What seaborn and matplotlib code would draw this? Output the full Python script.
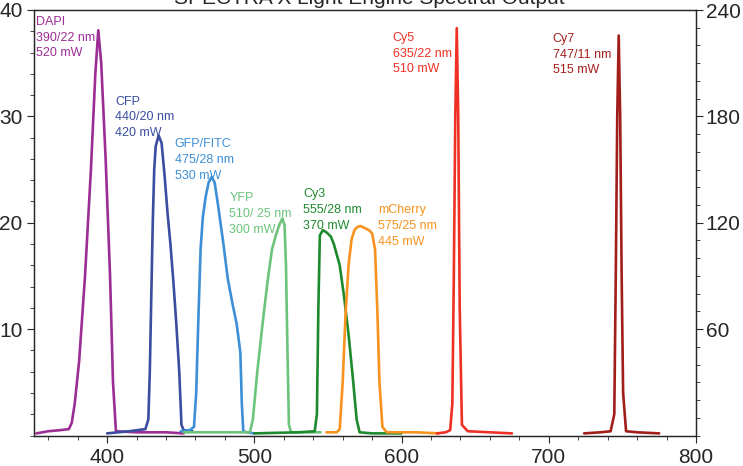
import numpy as np
import pandas as pd
import matplotlib
matplotlib.use("Agg")
from matplotlib import pyplot as plt
from matplotlib.ticker import MultipleLocator, FixedLocator
import seaborn as sns

# spectral curves: wavelength (nm) and power (left axis)
dapi_nm = [352, 360, 368, 374, 376, 378, 381, 385, 389, 392, 394, 396, 399, 402, 404, 406, 420, 440, 452]
dapi_pw = [0.2, 0.4, 0.5, 0.6, 1.2, 3.0, 7.0, 15.0, 25.0, 34.0, 38.1, 35.0, 26.0, 15.0, 5.0, 0.4, 0.3, 0.3, 0.2]

cfp_nm = [400, 415, 426, 428, 429, 430, 431, 432, 433, 435, 437, 439, 441, 443, 445, 447, 449, 450.5, 452, 458]
cfp_pw = [0.2, 0.4, 0.6, 1.5, 6.0, 13.0, 20.0, 25.0, 27.2, 28.2, 27.5, 24.5, 21.0, 18.0, 14.5, 10.5, 6.0, 1.0, 0.5, 0.4]

gfp_nm = [450, 456, 459, 460.5, 462, 463.5, 465, 467, 469, 471, 473, 475, 477, 479, 482, 485, 488, 490.5, 491.5, 492.5, 495, 500]
gfp_pw = [0.4, 0.5, 0.8, 4.0, 11.0, 17.5, 20.5, 22.5, 23.8, 24.3, 23.8, 22.0, 20.0, 18.0, 14.7, 12.5, 10.5, 7.8, 3.0, 0.4, 0.3, 0.2]

yfp_nm = [452, 480, 497, 499, 502, 506, 509, 512, 515, 517, 519, 520.5, 521.5, 522.5, 523.5, 525, 545]
yfp_pw = [0.3, 0.3, 0.3, 1.5, 6.0, 11.0, 14.5, 17.5, 19.0, 19.8, 20.4, 19.8, 16.0, 8.0, 1.0, 0.3, 0.3]

cy3_nm = [500, 530, 541, 542.5, 543.5, 544.5, 546.5, 549, 552, 554, 556, 558, 561, 564, 567, 569.5, 571.5, 580, 600]
cy3_pw = [0.2, 0.3, 0.4, 2.0, 12.0, 18.8, 19.3, 19.1, 18.7, 18.0, 17.0, 16.0, 13.0, 9.5, 5.3, 1.5, 0.3, 0.2, 0.2]

mcherry_nm = [549, 556, 558, 560, 562, 564, 566, 568, 570, 572, 575, 578, 580, 582, 583.5, 585, 587, 590, 610, 625]
mcherry_pw = [0.3, 0.3, 0.6, 5.0, 11.5, 16.0, 18.4, 19.3, 19.6, 19.7, 19.5, 19.3, 19.0, 17.5, 12.0, 5.0, 0.8, 0.3, 0.3, 0.2]

cy5_nm = [624, 630, 633, 634.5, 635.5, 636.5, 637.5, 638.5, 639.5, 641, 645, 660, 675]
cy5_pw = [0.2, 0.3, 0.5, 3.0, 15.0, 30.0, 38.3, 30.0, 12.0, 1.0, 0.4, 0.3, 0.2]

cy7_nm = [724, 735, 742, 744.5, 745.5, 746.5, 747.5, 748.5, 749.5, 750.5, 752.5, 760, 775]
cy7_pw = [0.2, 0.3, 0.4, 2.0, 15.0, 30.0, 37.6, 30.0, 15.0, 4.0, 0.4, 0.3, 0.2]

channels = ["DAPI", "CFP", "GFP/FITC", "YFP", "Cy3", "mCherry", "Cy5", "Cy7"]
labels = [
    "DAPI\n390/22 nm\n520 mW",
    "CFP\n440/20 nm\n420 mW",
    "GFP/FITC\n475/28 nm\n530 mW",
    "YFP\n510/ 25 nm\n300 mW",
    "Cy3\n555/28 nm\n370 mW",
    "mCherry\n575/25 nm\n445 mW",
    "Cy5\n635/22 nm\n510 mW",
    "Cy7\n747/11 nm\n515 mW",
]
colors = ["#9B2D94", "#3A4DA0", "#3D8FD6", "#6CC47C", "#1E8A2E", "#F7931E", "#EE3124", "#A21E1B"]
label_pos = [(352, 39.45), (405.5, 31.95), (446, 27.95), (483, 22.85),
             (533, 23.25), (583.8, 21.75), (594, 37.95), (702.7, 37.85)]

curves = [(dapi_nm, dapi_pw), (cfp_nm, cfp_pw), (gfp_nm, gfp_pw), (yfp_nm, yfp_pw),
          (cy3_nm, cy3_pw), (mcherry_nm, mcherry_pw), (cy5_nm, cy5_pw), (cy7_nm, cy7_pw)]

sns.set_style("ticks")
plt.rcParams["font.family"] = ["Liberation Sans", "DejaVu Sans"]

fig = plt.figure(figsize=(7.43, 4.66), dpi=100)
ax = fig.add_axes([33.5 / 743, 30.5 / 466, 662.5 / 743, 425.5 / 466])

for name, (nm, pw), col in zip(channels, curves, colors):
    df = pd.DataFrame({"nm": nm, "power": pw})
    sns.lineplot(data=df, x="nm", y="power", ax=ax, color=col, lw=1.9,
                 sort=False, estimator=None)

for text, (tx, ty), col in zip(labels, label_pos, colors):
    ax.text(tx, ty, text, color=col, fontsize=9, va="top", ha="left", linespacing=1.42)

ax.set_xlim(350, 800)
ax.set_ylim(0, 40)
ax.set_xlabel("")
ax.set_ylabel("")
ax.xaxis.set_major_locator(FixedLocator([400, 500, 600, 700, 800]))
ax.xaxis.set_minor_locator(MultipleLocator(20))
ax.yaxis.set_major_locator(FixedLocator([10, 20, 30, 40]))
ax.yaxis.set_minor_locator(MultipleLocator(2))
ax.tick_params(axis="both", which="major", labelsize=15, length=5, width=0.8, pad=3)
ax.tick_params(axis="x", which="major", pad=4)
ax.tick_params(axis="both", which="minor", length=3, width=0.6)
for s in ax.spines.values():
    s.set_linewidth(0.9)
    s.set_visible(True)

ax2 = ax.twinx()
ax2.set_ylim(0, 240)
ax2.yaxis.set_major_locator(FixedLocator([60, 120, 180, 240]))
ax2.yaxis.set_minor_locator(MultipleLocator(10))
ax2.tick_params(axis="y", which="major", labelsize=15, length=5, width=0.8, pad=2)
ax2.tick_params(axis="y", which="minor", length=3, width=0.6)
for s in ax2.spines.values():
    s.set_linewidth(0.9)

fig.text(369 / 743, 1 - 4 / 466, "SPECTRA X Light Engine Spectral Output",
         ha="center", va="baseline", fontsize=15)

fig.savefig("out.png", dpi=100)
